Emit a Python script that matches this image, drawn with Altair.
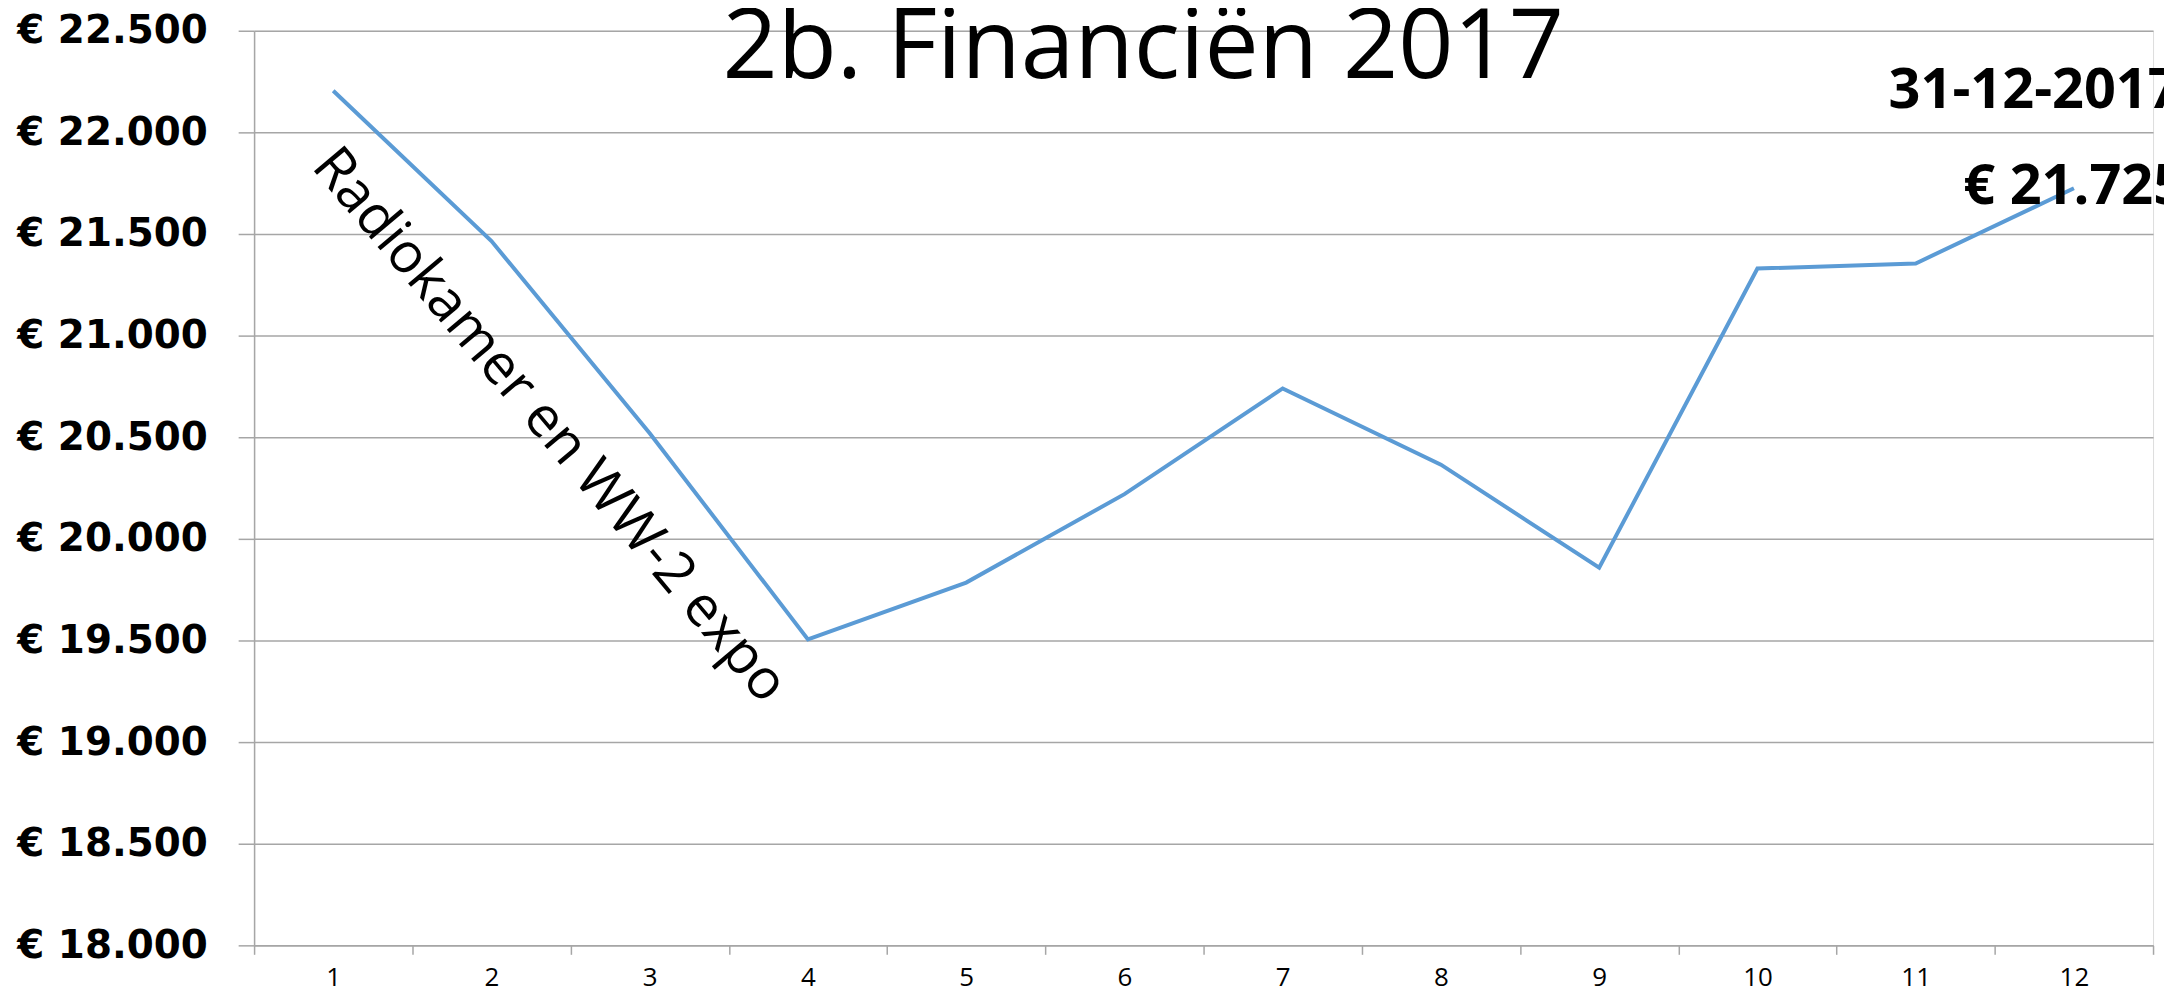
import altair as alt
import pandas as pd

# ---- data ----
months = ["1", "2", "3", "4", "5", "6", "7", "8", "9", "10", "11", "12"]
balances = [22205, 21465, 20520, 19505, 19785, 20220, 20740, 20365, 19858, 21330, 21355, 21725]
y_ticks = [18000, 18500, 19000, 19500, 20000, 20500, 21000, 21500, 22000, 22500]

title_text = ["2b. Financiën 2017"]
title_month = ["7"]
title_value = [22500]

note_month = ["2"]
note_value = [20875]
note_text = ["Radiokamer en WW-2 expo"]

end_month = ["12"]
end_value = [21725]
end_date = ["31-12-2017"]
end_amount = ["€ 21.725"]

df = pd.DataFrame({"month": months, "saldo": balances})
df_title = pd.DataFrame({"month": title_month, "saldo": title_value, "txt": title_text})
df_note = pd.DataFrame({"month": note_month, "saldo": note_value, "txt": note_text})
df_end = pd.DataFrame({"month": end_month, "saldo": end_value,
                       "date": end_date, "amount": end_amount})

GRID = "#a6a6a6"
BLUE = "#5B9BD5"

x_enc = alt.X(
    "month:N", sort=months,
    scale=alt.Scale(type="band", paddingInner=0, paddingOuter=0),
    axis=alt.Axis(
        title=None, labelAngle=0, grid=False, tickBand="extent",
        domainColor=GRID, domainWidth=1.5, tickColor=GRID, tickWidth=1.5, tickSize=9,
        labelFont="Open Sans", labelFontSize=26, labelColor="black", labelPadding=10,
    ),
)
y_enc = alt.Y(
    "saldo:Q",
    scale=alt.Scale(domain=[18000, 22500], nice=False, zero=False),
    axis=alt.Axis(
        title=None, values=y_ticks,
        labelExpr="'€ ' + replace(format(datum.value, ',.0f'), ',', '.')",
        labelFont="DejaVu Sans", labelFontWeight="bold", labelFontSize=39,
        labelColor="black", labelPadding=31, labelLimit=0,
        domainColor=GRID, domainWidth=1.5, tickColor=GRID, tickWidth=1.5, tickSize=16,
        grid=True, gridColor=GRID, gridWidth=1.5,
    ),
)

x_plain = alt.X("month:N", sort=months)

line = alt.Chart(df).mark_line(color=BLUE, strokeWidth=4).encode(x=x_enc, y=y_enc)

title = alt.Chart(df_title).mark_text(
    font="Open Sans", fontSize=97, align="center", baseline="alphabetic",
    dx=-140, dy=47, color="black",
).encode(x=x_plain, y="saldo:Q", text="txt:N")

note = alt.Chart(df_note).mark_text(
    font="Open Sans", fontSize=56, angle=50, align="center", baseline="middle",
    dx=87, dy=-3, color="black",
).encode(x=x_plain, y="saldo:Q", text="txt:N")

end_date_txt = alt.Chart(df_end).mark_text(
    font="Open Sans", fontWeight="bold", fontSize=56, align="left",
    baseline="alphabetic", dx=-186, dy=-81, color="black",
).encode(x=x_plain, y="saldo:Q", text="date:N")

end_amount_txt = alt.Chart(df_end).mark_text(
    font="Open Sans", fontWeight="bold", fontSize=56, align="left",
    baseline="alphabetic", dx=-111, dy=16, color="black",
).encode(x=x_plain, y="saldo:Q", text="amount:N")

chart = alt.layer(line, title, note, end_date_txt, end_amount_txt).properties(
    width=1906, height=918,
    autosize=alt.AutoSizeParams(type="none"),
    padding={"left": 247, "top": 21, "right": 11, "bottom": 47},
).configure_view(stroke=None).configure(background="white")

chart.save("out.html", embed_options={"renderer": "svg", "actions": False})
